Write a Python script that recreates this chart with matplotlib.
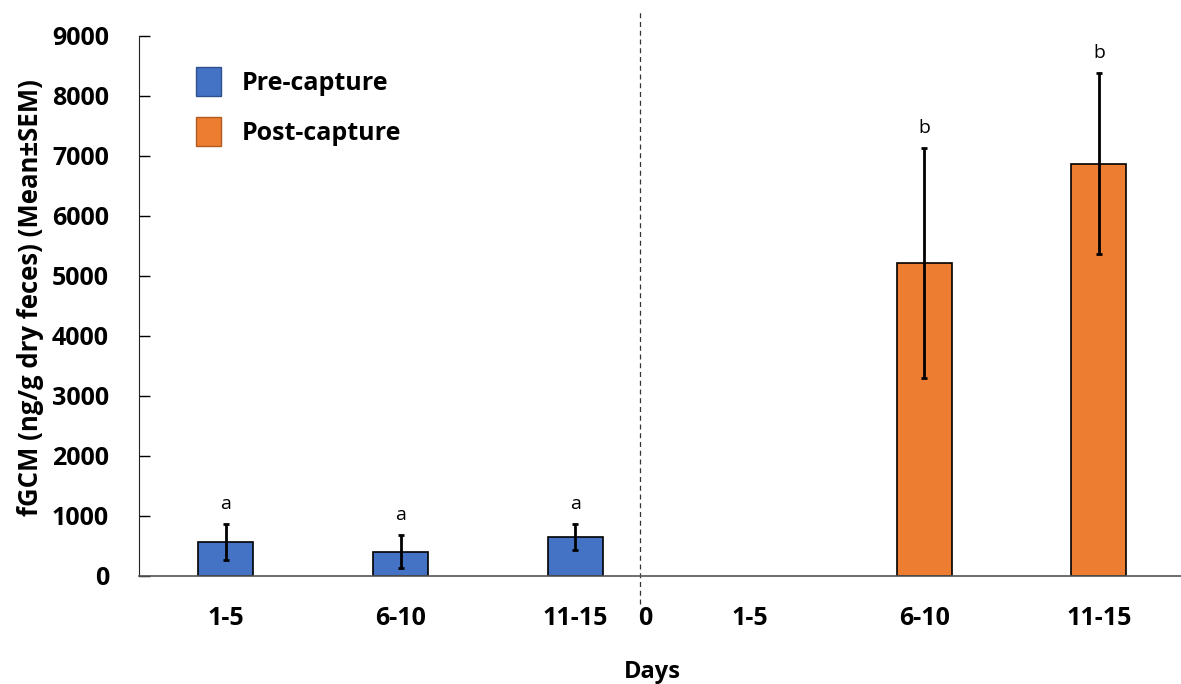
import numpy as np
import matplotlib
matplotlib.use("Agg")
import matplotlib.pyplot as plt
from matplotlib.patches import Patch

# data
pre_days = ['1-5', '6-10', '11-15']
pre_mean = [560, 405, 650]
pre_sem = [300, 275, 220]
pre_letters = ['a', 'a', 'a']

post_days = ['1-5', '6-10', '11-15']
post_mean = [np.nan, 5210, 6865]      # no bar for days 1-5
post_sem = [np.nan, 1910, 1505]
post_letters = ['', 'b', 'b']

yticks = [0, 1000, 2000, 3000, 4000, 5000, 6000, 7000, 8000, 9000]

plt.rcParams['font.family'] = ['Open Sans', 'DejaVu Sans']

fig = plt.figure(figsize=(11.81, 6.84), dpi=100)
ax = fig.add_axes([0.1181, 0.158, 0.8819, 0.790])

pre_x = np.arange(len(pre_days))
post_x = np.arange(len(post_days)) + 3
zero_x = 2.4
w = 0.315
err_kw = dict(ecolor='black', elinewidth=2, capsize=2.5, capthick=2)

ax.bar(pre_x, pre_mean, w, yerr=pre_sem, color='#4472C4', edgecolor='black',
       linewidth=1.2, error_kw=err_kw, zorder=2)
ax.bar(post_x, post_mean, w, yerr=post_sem, color='#ED7D31', edgecolor='black',
       linewidth=1.2, error_kw=err_kw, zorder=2)

# significance letters above the error bars
for x, m, s, t in zip(list(pre_x) + list(post_x), pre_mean + post_mean,
                      pre_sem + post_sem, pre_letters + post_letters):
    if t:
        ax.annotate(t, (x, m + s), xytext=(0, 8), textcoords='offset points',
                    ha='center', va='bottom', fontsize=14)

# dashed divider at capture day
ax.axvline(2.37, ymin=-0.052, ymax=1.048, color='#333333', linestyle=(0, (4, 3)),
           linewidth=0.9, clip_on=False)

ax.set_xlim(-0.495, 5.47)
ax.set_ylim(0, 9000)
ax.set_yticks(yticks)
ax.set_yticklabels([str(v) for v in yticks], fontsize=18, fontweight='bold')
ax.set_xticks(list(pre_x) + [zero_x] + list(post_x))
ax.set_xticklabels(pre_days + ['0'] + post_days, fontsize=18, fontweight='bold')
ax.tick_params(axis='x', length=0, pad=22)
ax.tick_params(axis='y', direction='in', length=8, width=1, pad=22)

ax.spines['top'].set_visible(False)
ax.spines['right'].set_visible(False)
ax.spines['left'].set_color('#222222')
ax.spines['bottom'].set_color('#555555')
ax.spines['bottom'].set_linewidth(1.2)

ax.set_ylabel('fGCM (ng/g dry feces) (Mean±SEM)', fontsize=18.5, fontweight='bold')
ax.yaxis.set_label_coords(-0.092, 0.515)
ax.set_xlabel('Days', fontsize=17, fontweight='bold')
ax.xaxis.set_label_coords(0.492, -0.155)

handles = [Patch(facecolor='#4472C4', edgecolor='#2F528F', label='Pre-capture'),
           Patch(facecolor='#ED7D31', edgecolor='#AE5A21', label='Post-capture')]
leg = ax.legend(handles=handles, loc='upper left', bbox_to_anchor=(0.033, 0.983),
                frameon=False, prop={'size': 18, 'weight': 'bold'},
                handlelength=1.0, handleheight=1.4, handletextpad=0.8,
                labelspacing=0.85)

fig.savefig('out.png', dpi=100)
